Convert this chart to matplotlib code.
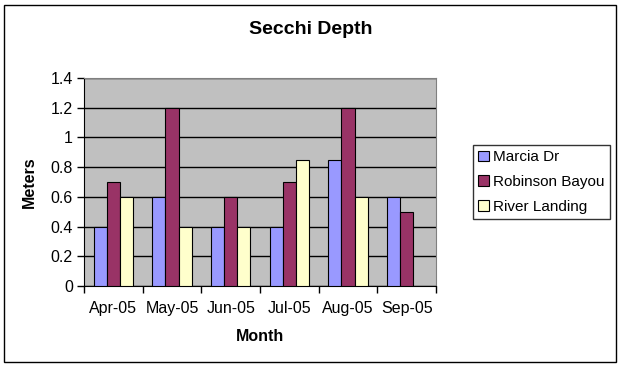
import numpy as np
import matplotlib
matplotlib.use('Agg')
import matplotlib.pyplot as plt
from matplotlib.patches import Rectangle

plt.rcParams['font.family'] = ['Liberation Sans', 'DejaVu Sans']

# data
months = ['Apr-05', 'May-05', 'Jun-05', 'Jul-05', 'Aug-05', 'Sep-05']
marcia_dr = [0.4, 0.6, 0.4, 0.4, 0.85, 0.6]
robinson_bayou = [0.7, 1.2, 0.6, 0.7, 1.2, 0.5]
river_landing = [0.6, 0.4, 0.4, 0.85, 0.6, np.nan]
series_names = ['Marcia Dr', 'Robinson Bayou', 'River Landing']
colors = ['#9999FF', '#993366', '#FFFFCC']

fig = plt.figure(figsize=(6.21, 3.67), dpi=100)
ax = fig.add_axes([84 / 621, 1 - 286 / 367, 352 / 621, 208 / 367])
ax.set_facecolor('#C0C0C0')

x = np.arange(len(months)) + 0.5
w = 1 / 4.5
for i, (vals, name, c) in enumerate(zip([marcia_dr, robinson_bayou, river_landing], series_names, colors)):
    ax.bar(x + (i - 1) * w, vals, width=w, color=c, edgecolor='black',
           linewidth=0.8, label=name, zorder=3)

ax.set_xlim(0, len(months))
ax.set_ylim(0, 1.4)
ax.set_yticks(np.arange(0, 1.41, 0.2))
ax.set_yticklabels(['0', '0.2', '0.4', '0.6', '0.8', '1', '1.2', '1.4'])
ax.yaxis.grid(True, color='black', linewidth=1, zorder=1)
ax.set_axisbelow(True)

ax.set_xticks(x)
ax.set_xticklabels(months)
ax.set_xticks(np.arange(0, len(months) + 1), minor=True)
ax.tick_params(axis='x', which='major', length=0, pad=11, labelsize=11.5)
ax.tick_params(axis='x', which='minor', length=5, width=1, direction='out')
ax.tick_params(axis='y', length=5, width=1, direction='out', labelsize=11.5, pad=3)

for s in ['top', 'right']:
    ax.spines[s].set_color('#808080')
for s in ['left', 'bottom']:
    ax.spines[s].set_color('black')

ax.set_xlabel('Month', fontsize=11.5, fontweight='bold', labelpad=9)
ax.set_ylabel('Meters', fontsize=11.5, fontweight='bold', labelpad=10)

fig.text(0.5, 1 - 30 / 367, 'Secchi Depth', ha='center', va='center',
         fontsize=14, fontweight='bold')

leg = fig.legend(loc='upper left', bbox_to_anchor=(473 / 621, 1 - 145 / 367),
                 frameon=True, fancybox=False, edgecolor='black', fontsize=11,
                 handlelength=0.7, handleheight=0.7, handletextpad=0.25,
                 borderpad=0.35, labelspacing=0.7, borderaxespad=0)
leg.get_frame().set_linewidth(1)

fig.patches.append(Rectangle((4 / 621, 5 / 367), 612 / 621, 357 / 367,
                             transform=fig.transFigure, fill=False,
                             edgecolor='black', linewidth=1))

fig.savefig('out.png', dpi=100)
